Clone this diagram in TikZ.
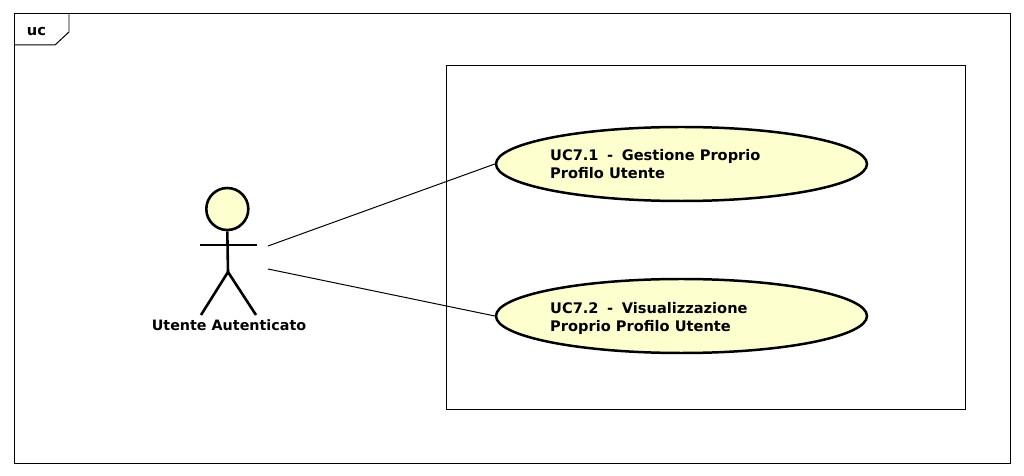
\documentclass[tikz,border=0pt]{standalone}
\usepackage{fontspec}
\setmainfont{DejaVu Sans}
\usetikzlibrary{shapes.geometric}
\definecolor{ucfill}{HTML}{FEFFCE}
\tikzset{
  frameline/.style={draw=black,line width=1pt},
  usecase/.style={ellipse,draw=black,line width=2.5pt,fill=ucfill,minimum width=371bp,minimum height=74bp,inner sep=0pt},
  stick/.style={draw=black,line width=2.6pt},
  conn/.style={draw=black,line width=1pt},
  lbl/.style={font=\fontsize{14.6bp}{18bp}\selectfont\bfseries,text=black,inner sep=0pt,align=left}
}
\newcommand{\dashgap}{\hspace{3.5bp}-\hspace{3.5bp}}
\begin{document}
\begin{tikzpicture}[x=1bp,y=-1bp]
\useasboundingbox (0,0) rectangle (1024,476);
\fill[white] (0,0) rectangle (1024,476);
\path[frameline] (14,14) rectangle (1010,463);
\path[frameline] (14,45) -- (55,45) -- (69,32) -- (69,14);
\node[lbl,anchor=base] (title) at (36.5,36) {uc};
\path[frameline] (446,66) rectangle (965,409);
\node[usecase] (uca) at (681.5,164) {};
\node[usecase] (ucb) at (681.5,316) {};
\node[lbl,anchor=base west] (ta) at (550,179) {UC7.1 \dashgap{} Gestione Proprio\\Profilo Utente};
\node[lbl,anchor=base west] (tb) at (550,332) {UC7.2 \dashgap{} Visualizzazione\\Proprio Profilo Utente};
\node[circle,draw=black,line width=2.6pt,fill=ucfill,minimum size=42bp,inner sep=0pt] (head) at (227.3,209) {};
\coordinate (hip) at (228,272);
\coordinate (armL) at (200,245);
\coordinate (armR) at (257,245);
\coordinate (footL) at (201,315);
\coordinate (footR) at (256,315);
\path[stick] (head.south) -- (hip);
\path[stick] (armL) -- (armR);
\path[stick] (footL) -- (hip) -- (footR);
\node[lbl,anchor=base,font=\fontsize{14.3bp}{18bp}\selectfont\bfseries] (actor) at (229,331) {Utente Autenticato};
\coordinate (c1) at (268,246);
\coordinate (c2) at (268,269);
\path[conn] (c1) -- (uca.west);
\path[conn] (c2) -- (ucb.west);
\end{tikzpicture}
\end{document}
